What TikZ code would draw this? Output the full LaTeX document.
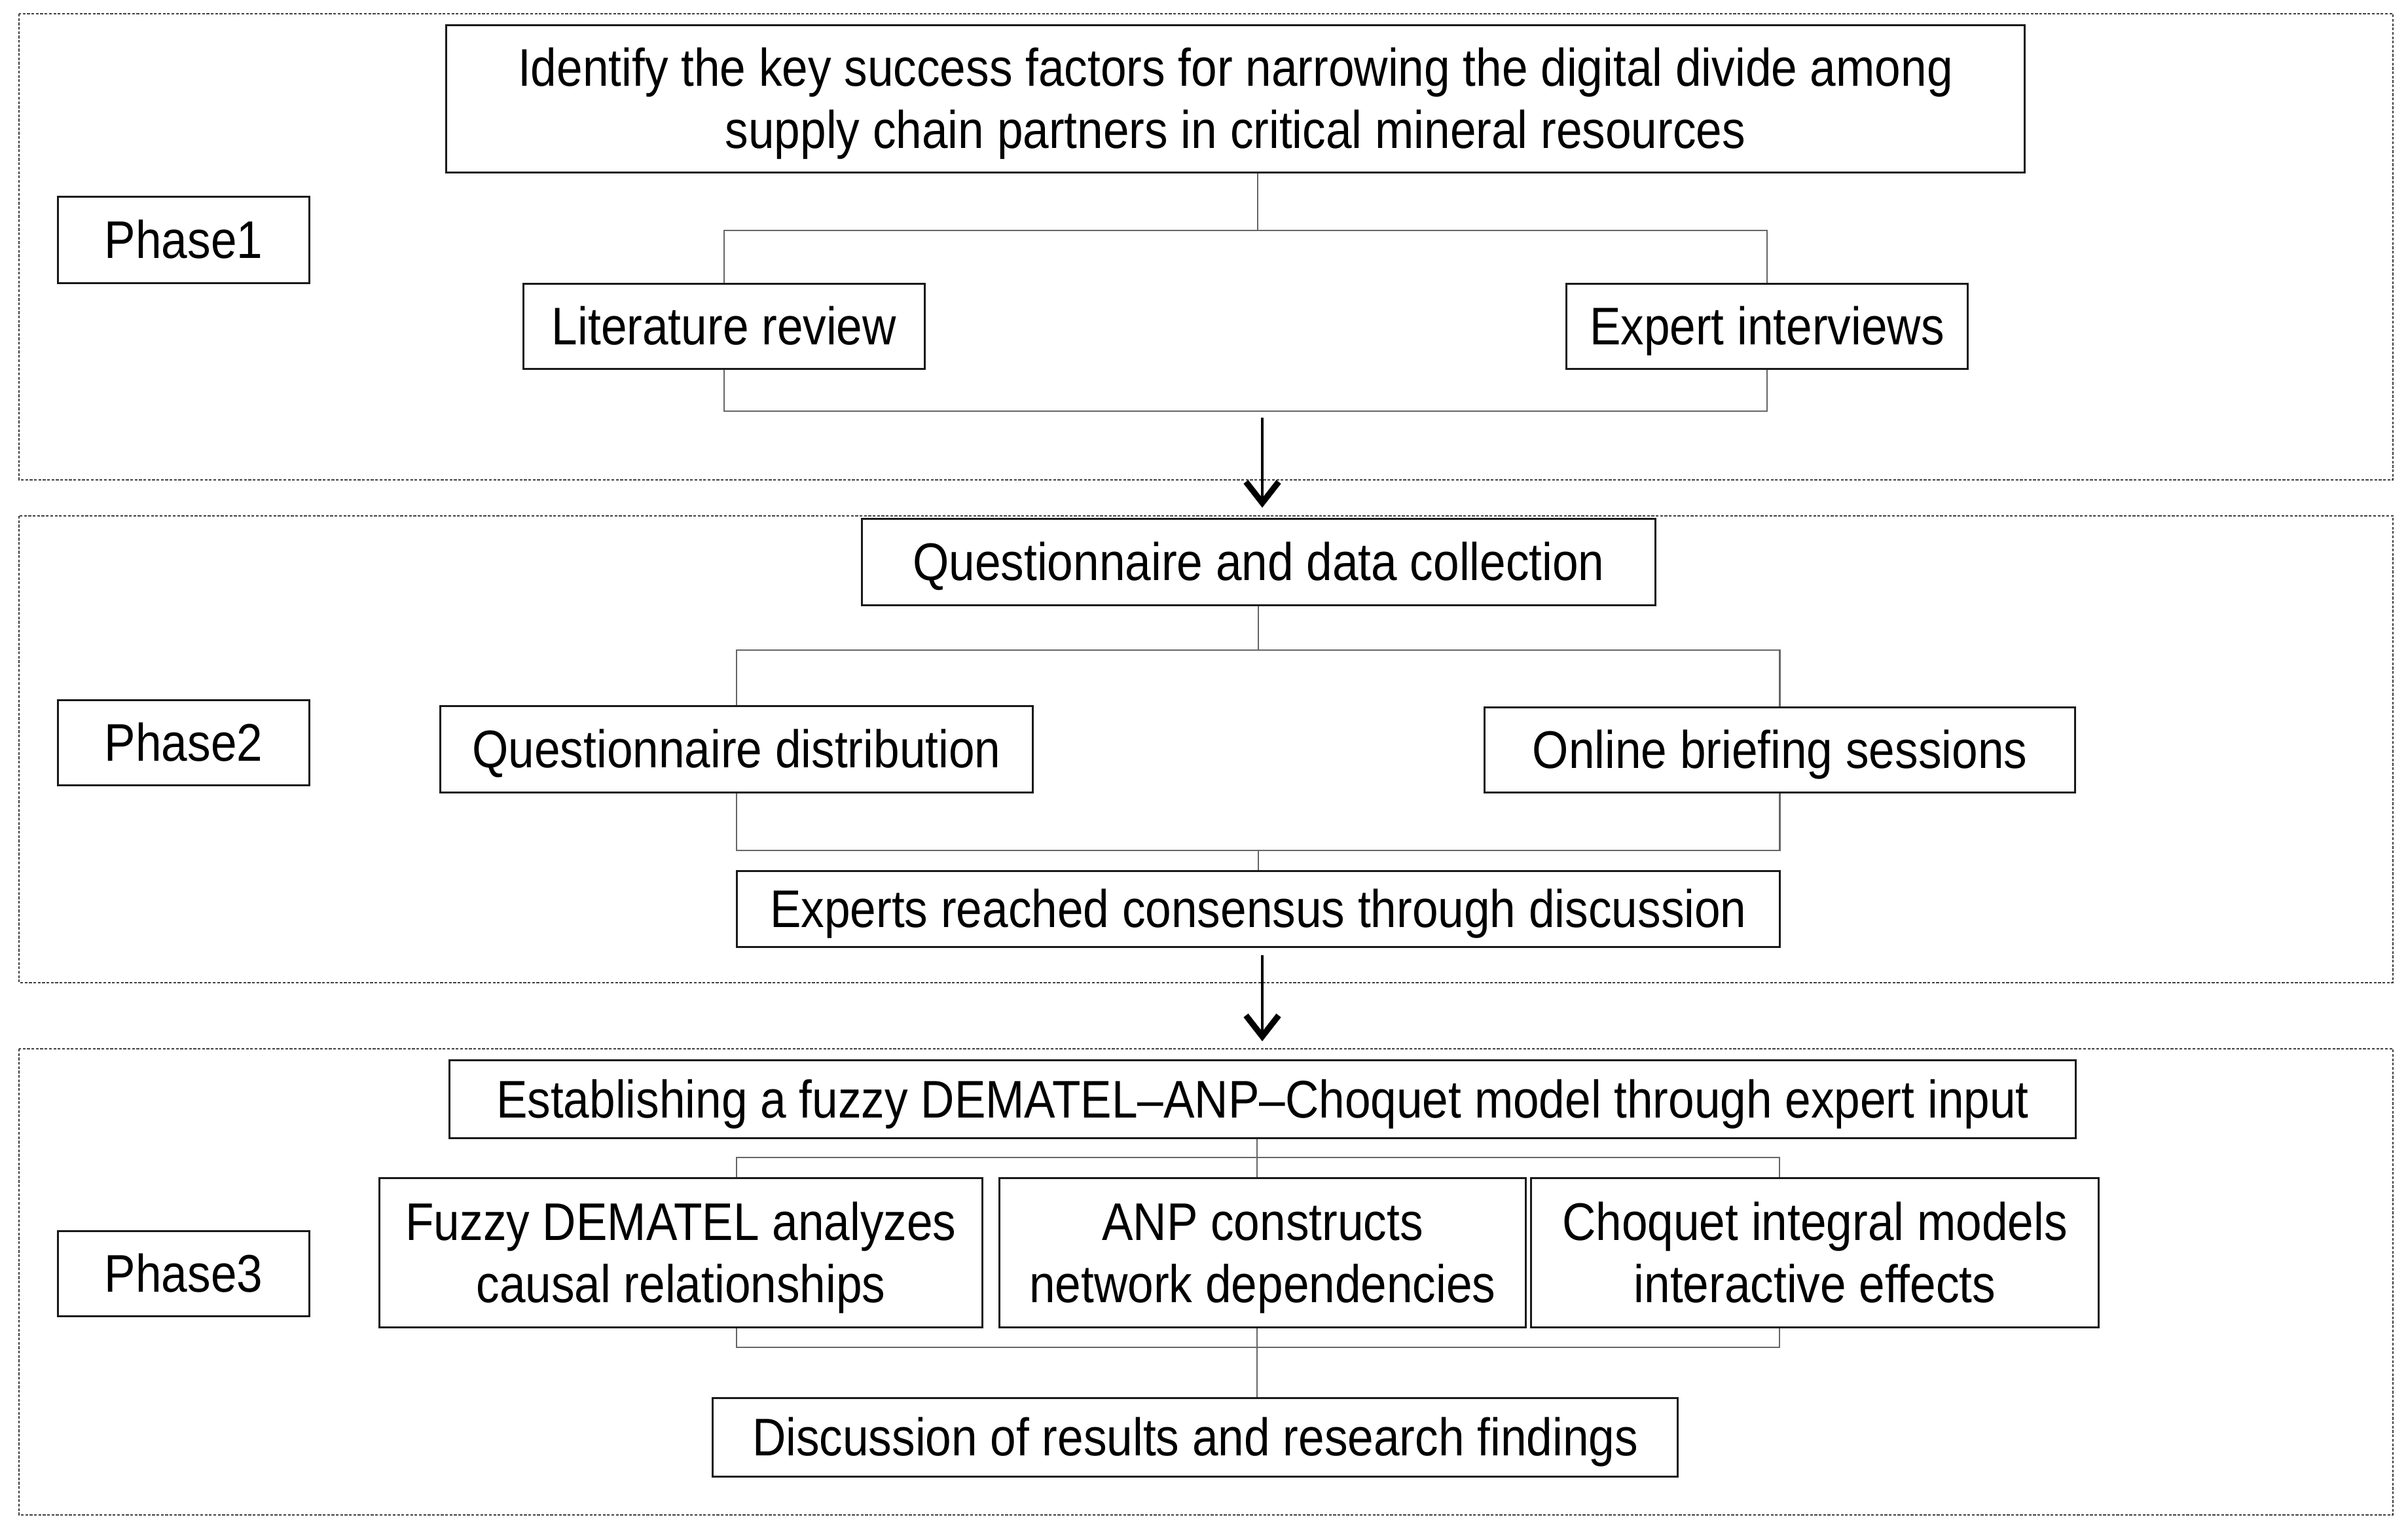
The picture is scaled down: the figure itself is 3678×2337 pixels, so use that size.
\documentclass[tikz,border=0pt]{standalone}
\usepackage{fontspec}
\setmainfont{Liberation Sans}[FakeStretch=0.88]
\usetikzlibrary{arrows.meta}
\begin{document}
\begin{tikzpicture}[x=0.01cm,y=-0.01cm,
  panel/.style={draw=black!75,line width=0.8pt,dash pattern=on 1.2pt off 0.7pt},
  box/.style={draw=black!90,line width=0.85pt,fill=white,inner sep=0pt,align=center,
    font=\fontsize{23pt}{27pt}\selectfont},
  oneline/.style={text height=17.3pt,text depth=1.2pt},
  twoline/.style={text height=44.3pt,text depth=1.2pt},
  conn/.style={draw=black!60,line width=0.7pt},
  arr/.style={draw=black,line width=1.4pt,-{Straight Barb[length=0.32cm,width=0.5cm,line width=2.6pt]}}]
\useasboundingbox (0,0) rectangle (3678,2337);
% panels
\draw[panel] (29,21) rectangle (3655,733);
\draw[panel] (29,788) rectangle (3655,1501);
\draw[panel] (29,1602) rectangle (3655,2314);
% junction coordinates
\coordinate (b1t) at (1921,352);
\coordinate (b1b) at (1921,628);
\coordinate (a1s) at (1928,638);
\coordinate (b2t) at (1922,993);
\coordinate (b2b) at (1922,1299);
\coordinate (a2s) at (1928,1459);
\coordinate (b3t) at (1920,1768);
\coordinate (b3l) at (1125,1768);
\coordinate (b3r) at (2718,1768);
\coordinate (b3bl) at (1125,2058);
\coordinate (b3br) at (2718,2058);
% nodes
\node[box,oneline,minimum width=3.83cm,minimum height=1.31cm] (ph1) at (280.5,366.5) {Phase1};
\node[box,oneline,minimum width=3.83cm,minimum height=1.30cm] (ph2) at (280.5,1134.5) {Phase2};
\node[box,oneline,minimum width=3.83cm,minimum height=1.30cm] (ph3) at (280.5,1945.5) {Phase3};
\node[box,twoline,minimum width=24.10cm,minimum height=2.24cm] (top) at (1887,151)
  {Identify the key success factors for narrowing the digital divide among\\supply chain partners in critical mineral resources};
\node[box,oneline,minimum width=6.12cm,minimum height=1.29cm] (lit) at (1106,498.5) {Literature review};
\node[box,oneline,minimum width=6.12cm,minimum height=1.29cm] (exp) at (2699,498.5) {Expert interviews};
\node[box,oneline,minimum width=12.11cm,minimum height=1.31cm] (q) at (1922.5,858.5) {Questionnaire and data collection};
\node[box,oneline,minimum width=9.04cm,minimum height=1.31cm] (qd) at (1125,1144.5) {Questionnaire distribution};
\node[box,oneline,minimum width=9.01cm,minimum height=1.29cm] (ob) at (2718.5,1145.5) {Online briefing sessions};
\node[box,oneline,minimum width=15.92cm,minimum height=1.16cm] (ex) at (1922,1388.5) {Experts reached consensus through discussion};
\node[box,oneline,minimum width=24.83cm,minimum height=1.18cm] (est) at (1928.5,1679) {Establishing a fuzzy DEMATEL–ANP–Choquet model through expert input};
\node[box,twoline,minimum width=9.20cm,minimum height=2.27cm] (fz) at (1040,1913.5) {Fuzzy DEMATEL analyzes\\causal relationships};
\node[box,twoline,minimum width=8.03cm,minimum height=2.27cm] (anp) at (1928.5,1913.5) {ANP constructs\\network dependencies};
\node[box,twoline,minimum width=8.66cm,minimum height=2.27cm] (ch) at (2772,1913.5) {Choquet integral models\\interactive effects};
\node[box,oneline,minimum width=14.73cm,minimum height=1.19cm] (disc) at (1825.5,2195.5) {Discussion of results and research findings};
% phase 1 connectors
\draw[conn] (top.south -| b1t) -- (b1t);
\draw[conn] (lit.north) |- (b1t) -| (exp.north);
\draw[conn] (lit.south) |- (b1b) -| (exp.south);
\draw[arr] (a1s) -- ([yshift=0.16cm]a1s |- q.north);
% phase 2 connectors
\draw[conn] (q.south -| b2t) -- (b2t);
\draw[conn] (qd.north) |- (b2t) -| (ob.north);
\draw[conn] (qd.south) |- (b2b) -| (ob.south);
\draw[conn] (b2b) -- (b2b |- ex.north);
\draw[arr] (a2s) -- ([yshift=0.28cm]a2s |- est.north);
% phase 3 connectors
\draw[conn] (b3t |- est.south) -- (b3t |- anp.north);
\draw[conn] (b3l |- fz.north) -- (b3l) -- (b3r) -- (b3r |- ch.north);
\draw[conn] (b3bl |- fz.south) -- (b3bl) -- (b3br) -- (b3br |- ch.south);
\draw[conn] (b3t |- anp.south) -- (b3t |- disc.north);
\end{tikzpicture}
\end{document}
